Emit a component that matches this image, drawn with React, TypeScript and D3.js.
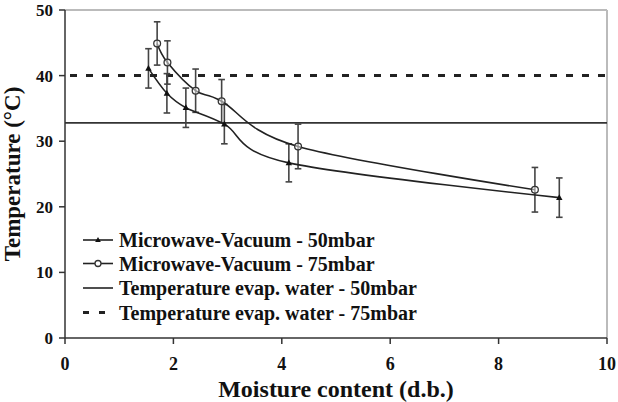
import React from "react";
import * as d3 from "d3";

const W = 618;
const H = 402;

const mv50X = [1.54, 1.88, 2.23, 2.94, 4.13, 9.12];
const mv50Y = [41.1, 37.3, 35.1, 32.6, 26.7, 21.4];
const mv50Err = [3.0, 3.0, 3.0, 3.0, 2.9, 3.0];

const mv75X = [1.7, 1.89, 2.41, 2.89, 4.3, 8.67];
const mv75Y = [44.9, 42.0, 37.7, 36.1, 29.2, 22.6];
const mv75Err = [3.3, 3.3, 3.3, 3.3, 3.4, 3.4];

const evap50 = 32.8;
const evap75 = 40;

const xTicks = [0, 2, 4, 6, 8, 10];
const yTicks = [0, 10, 20, 30, 40, 50];

const legendLabels = [
  "Microwave-Vacuum - 50mbar",
  "Microwave-Vacuum - 75mbar",
  "Temperature evap. water - 50mbar",
  "Temperature evap. water - 75mbar",
];

const FONT = "Liberation Serif";

export default function App() {
  const left = 65, right = 607, top = 10, bottom = 338;
  const x = d3.scaleLinear().domain([0, 10]).range([left, right]);
  const y = d3.scaleLinear().domain([0, 50]).range([bottom, top]);

  const line = d3
    .line<[number, number]>()
    .x((d) => x(d[0]))
    .y((d) => y(d[1]))
    .curve(d3.curveCardinal.tension(0));

  const s50 = mv50X.map((v, i) => [v, mv50Y[i]] as [number, number]);
  const s75 = mv75X.map((v, i) => [v, mv75Y[i]] as [number, number]);

  const tri = (cx: number, cy: number, r: number) =>
    `M${cx},${cy - r}L${cx + r * 0.95},${cy + r * 0.7}L${cx - r * 0.95},${cy + r * 0.7}Z`;

  const errBars = (xs: number[], ys: number[], es: number[], key: string) =>
    xs.map((xv, i) => {
      const cx = x(xv);
      const y1 = y(ys[i] + es[i]);
      const y2 = y(ys[i] - es[i]);
      return (
        <g key={key + i} stroke="#444" strokeWidth={1.6}>
          <line x1={cx} x2={cx} y1={y1} y2={y2} />
          <line x1={cx - 3.3} x2={cx + 3.3} y1={y1} y2={y1} />
          <line x1={cx - 3.3} x2={cx + 3.3} y1={y2} y2={y2} />
        </g>
      );
    });

  const legX1 = 83, legX2 = 113, legTextX = 119;
  const legY = [240, 263.5, 288, 312.5];
  const textStyle = { fontFamily: FONT, fontWeight: 700 as const };

  return (
    <svg
      width={W}
      height={H}
      style={{ position: "absolute", left: 0, top: 0, background: "#fff", fontFamily: FONT }}
    >
      <rect x={0} y={0} width={W} height={H} fill="#fff" />
      <line x1={left} x2={right} y1={top} y2={top} stroke="#bbb" strokeWidth={2} />
      <line x1={right} x2={right} y1={top} y2={bottom} stroke="#bbb" strokeWidth={2} />

      <line x1={left} x2={right} y1={y(evap50)} y2={y(evap50)} stroke="#333" strokeWidth={1.8} />
      <line
        x1={left}
        x2={right}
        y1={y(evap75)}
        y2={y(evap75)}
        stroke="#222"
        strokeWidth={3}
        strokeDasharray="7,9"
        strokeDashoffset={11}
      />

      {errBars(mv50X, mv50Y, mv50Err, "e50")}
      {errBars(mv75X, mv75Y, mv75Err, "e75")}

      <path d={line(s50) || ""} fill="none" stroke="#222" strokeWidth={1.6} />
      <path d={line(s75) || ""} fill="none" stroke="#222" strokeWidth={1.6} />

      {s50.map((d, i) => (
        <path key={"m50" + i} d={tri(x(d[0]), y(d[1]), 3.4)} fill="#111" />
      ))}
      {s75.map((d, i) => (
        <circle
          key={"m75" + i}
          cx={x(d[0])}
          cy={y(d[1])}
          r={3.4}
          fill="#fff"
          fillOpacity={0.5}
          stroke="#333"
          strokeWidth={1.3}
        />
      ))}

      <line x1={left} x2={left} y1={top} y2={bottom} stroke="#333" strokeWidth={1.5} />
      <line x1={left} x2={right} y1={bottom} y2={bottom} stroke="#333" strokeWidth={1.5} />
      {yTicks.map((t) => (
        <g key={"yt" + t}>
          <line x1={left - 6} x2={left} y1={y(t)} y2={y(t)} stroke="#333" strokeWidth={1.5} />
          <text x={53} y={y(t)} dy="0.35em" textAnchor="end" fontSize={17} style={textStyle} fill="#111">
            {t}
          </text>
        </g>
      ))}
      {xTicks.map((t) => (
        <g key={"xt" + t}>
          <line x1={x(t)} x2={x(t)} y1={bottom} y2={bottom + 6} stroke="#333" strokeWidth={1.5} />
          <text x={x(t)} y={370} textAnchor="middle" fontSize={18} style={textStyle} fill="#111">
            {t}
          </text>
        </g>
      ))}

      <text x={(left + right) / 2} y={397} textAnchor="middle" fontSize={24} style={textStyle} fill="#111">
        Moisture content (d.b.)
      </text>
      <text
        transform={`translate(20,${(top + bottom) / 2}) rotate(-90)`}
        textAnchor="middle"
        fontSize={23}
        style={textStyle}
        fill="#111"
      >
        Temperature (°C)
      </text>

      {legendLabels.map((lab, i) => {
        const ly = legY[i];
        const mid = (legX1 + legX2) / 2;
        return (
          <g key={"lg" + i}>
            {i === 3 ? (
              <g stroke="#222" strokeWidth={3}>
                <line x1={legX1} x2={legX1 + 6} y1={ly} y2={ly} />
                <line x1={legX1 + 16} x2={legX1 + 22} y1={ly} y2={ly} />
              </g>
            ) : (
              <line x1={legX1} x2={legX2} y1={ly} y2={ly} stroke="#222" strokeWidth={1.6} />
            )}
            {i === 0 && <path d={tri(mid, ly, 3)} fill="#111" />}
            {i === 1 && <circle cx={mid} cy={ly} r={3} fill="#fff" stroke="#333" strokeWidth={1.3} />}
            <text x={legTextX} y={ly} dy="0.35em" fontSize={20} style={textStyle} fill="#111">
              {lab}
            </text>
          </g>
        );
      })}
    </svg>
  );
}
